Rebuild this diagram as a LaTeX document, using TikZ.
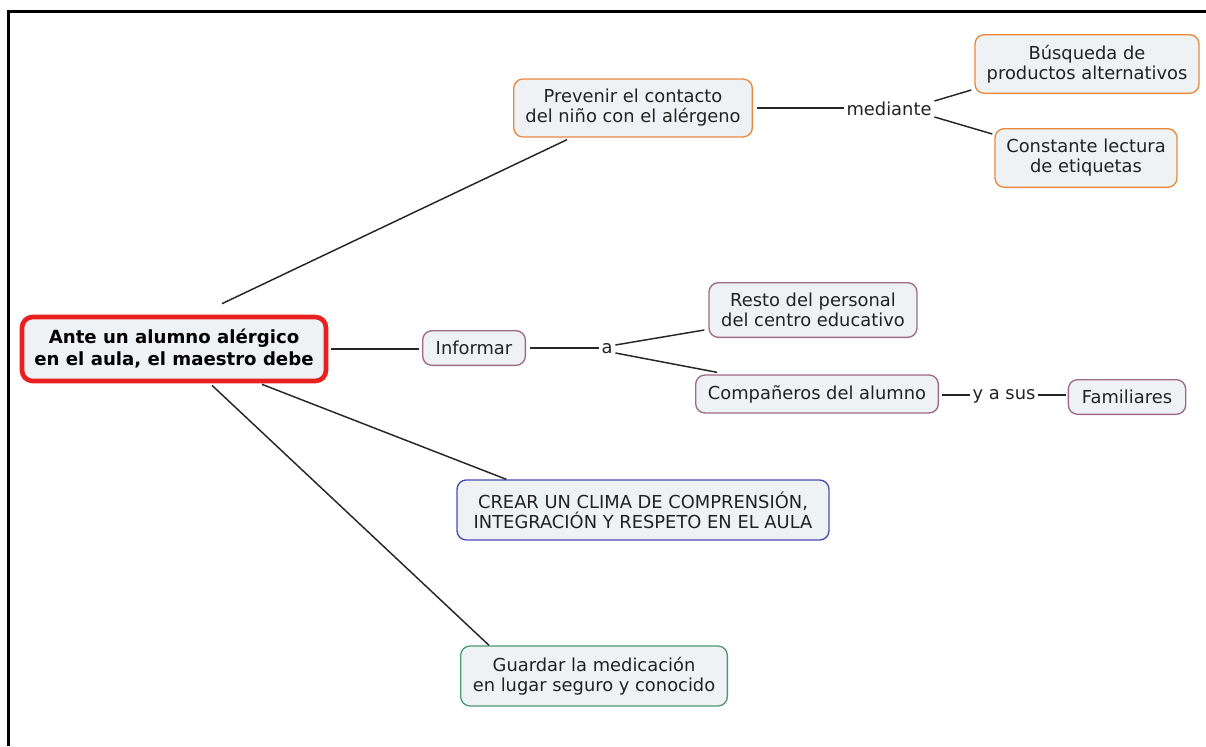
\documentclass[tikz,border=0pt]{standalone}
\usepackage{fontspec}
\setmainfont{DejaVu Sans}
\usetikzlibrary{calc}
\definecolor{boxfill}{HTML}{EEF2F4}
\definecolor{corange}{HTML}{E8893E}
\definecolor{cpurple}{HTML}{9E6A86}
\definecolor{cblue}{HTML}{4C4CB4}
\definecolor{cgreen}{HTML}{4E9A72}
\definecolor{cred}{HTML}{E82020}
\definecolor{ctext}{HTML}{222222}
\begin{document}
\begin{tikzpicture}[x=0.75pt,y=-0.75pt,
  box/.style={rectangle,rounded corners=7pt,fill=boxfill,line width=1pt,align=center,
    text=ctext,font=\fontsize{13.4}{15}\selectfont,inner sep=1pt},
  mainbox/.style={box,draw=cred,line width=3.5pt,rounded corners=8pt,font=\bfseries\fontsize{13.6}{16.5}\selectfont,text=black},
  obox/.style={box,draw=corange},
  pbox/.style={box,draw=cpurple},
  bbox/.style={box,draw=cblue},
  gbox/.style={box,draw=cgreen},
  lbl/.style={text=ctext,font=\fontsize{13.4}{15}\selectfont,inner sep=2pt},
  conn/.style={draw=black!85,line width=1.1pt}]
\useasboundingbox (0,0) rectangle (1206,746);
\draw[line width=2.25pt] (8,746) -- (8,11) -- (1206,11);

\node[mainbox,minimum width=228pt,minimum height=48pt] (main) at (174,349) {Ante un alumno alérgico\\en el aula, el maestro debe};
\node[obox,minimum width=179pt,minimum height=43.5pt] (prev) at (633,108) {Prevenir el contacto\\del niño con el alérgeno};
\node[lbl] (med) at (889,109) {mediante};
\node[obox,minimum width=168pt,minimum height=44pt] (bus) at (1087,64) {Búsqueda de\\productos alternativos};
\node[obox,minimum width=136.5pt,minimum height=44pt] (con) at (1086,158) {Constante lectura\\de etiquetas};
\node[pbox,minimum width=77pt,minimum height=26pt] (inf) at (474,348) {Informar};
\node[lbl] (a) at (607,349) {a};
\node[pbox,minimum width=156pt,minimum height=41pt] (resto) at (813,310) {Resto del personal\\del centro educativo};
\node[pbox,minimum width=182pt,minimum height=28.5pt] (comp) at (817,394) {Compañeros del alumno};
\node[lbl] (yas) at (1004,396) {y a sus};
\node[pbox,minimum width=88pt,minimum height=26pt] (fam) at (1127,397) {Familiares};
\node[bbox,minimum width=279pt,minimum height=45pt] (crear) at (643,510) {CREAR UN CLIMA DE COMPRENSIÓN,\\INTEGRACIÓN Y RESPETO EN EL AULA};
\node[gbox,minimum width=200pt,minimum height=45pt] (guard) at (594,676) {Guardar la medicación\\en lugar seguro y conocido};

\draw[conn] ($(main.north)+(48,-11)$) -- ($(prev.south)+(-66,2)$);
\draw[conn,shorten <=3pt] (prev.east) -- (prev.east -| med.west);
\draw[conn] ($(med.east)+(0,-8)$) -- ($(bus.west)+(-3,26)$);
\draw[conn] ($(med.east)+(0,8)$) -- ($(con.north west)+(-2,6)$);
\draw[conn,shorten <=2pt,shorten >=2pt] (main.east) -- (main.east -| inf.west);
\draw[conn,shorten <=3pt] (inf.east) -- (inf.east -| a.west);
\draw[conn] ($(a.east)+(0,-4)$) -- ($(resto.south west)+(-4,-8)$);
\draw[conn] ($(a.east)+(0,4)$) -- ($(comp.north west)+(22,-2)$);
\draw[conn,shorten <=2pt] ($(comp.east)+(0,1)$) -- ($(yas.west)+(0,-1)$);
\draw[conn,shorten >=1pt] ($(yas.east)+(0,-1)$) -- ($(yas.east -| fam.west)+(0,-1)$);
\draw[conn] ($(main.south)+(88,1)$) -- ($(crear.north west)+(50,0)$);
\draw[conn] ($(main.south)+(38,2)$) -- ($(guard.north west)+(29,0)$);
\end{tikzpicture}
\end{document}
